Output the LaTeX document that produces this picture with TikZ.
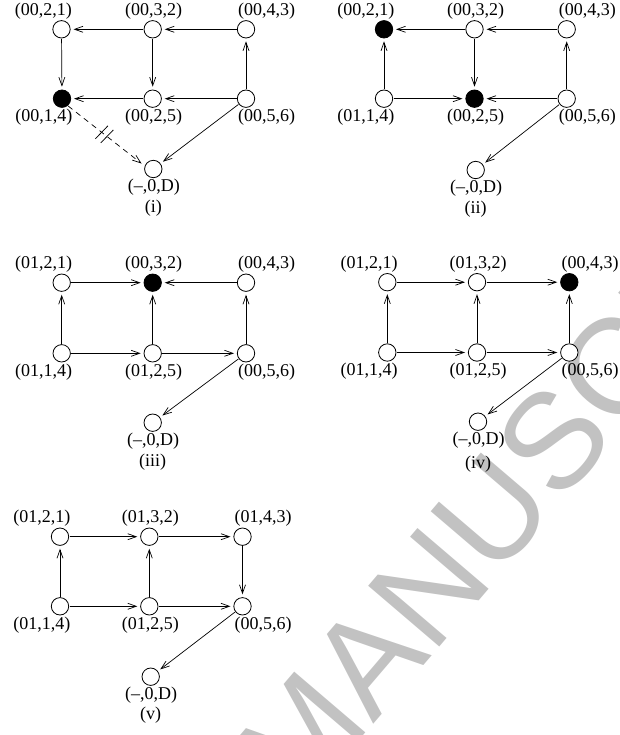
\documentclass[tikz,border=0pt]{standalone}
\usepackage{fontspec}
\setmainfont{Liberation Serif}
\newfontfamily\wmfont{Liberation Sans}
\usetikzlibrary{arrows.meta,calc}
\definecolor{wmgray}{RGB}{194,194,194}
\newcommand{\mkvert}[6]{%
  \node[vert,#4] (#1) at (#2,#3) {};
  \node[lbl,#5] (#1l) at (#1) {#6};
}
\begin{document}
\begin{tikzpicture}[x=1pt,y=-1pt,
  vert/.style={circle,draw,line width=0.8pt,minimum size=17.4pt,inner sep=0pt,outer sep=0.8pt},
  full/.style={fill=black},
  open/.style={fill=white},
  lbl/.style={inner sep=0pt,font=\fontsize{18}{20}\selectfont},
  lblLT/.style={anchor=east,xshift=10.5pt,yshift=18.5pt},
  lblMT/.style={anchor=center,xshift=1pt,yshift=18.5pt},
  lblRT/.style={anchor=west,xshift=-8pt,yshift=18.5pt},
  lblLB/.style={anchor=east,xshift=10.5pt,yshift=-18.5pt},
  lblMB/.style={anchor=center,xshift=1pt,yshift=-18.5pt},
  lblRB/.style={anchor=west,xshift=-8pt,yshift=-18.5pt},
  lblDB/.style={anchor=center,xshift=0.5pt,yshift=-18.5pt},
  arr/.style={-{Straight Barb[length=8.5pt,width=6pt]},line width=0.7pt,shorten >=2.5pt},
  tick/.style={line width=0.75pt},
  wm/.style={font=\wmfont\fontsize{136}{136}\selectfont,text=wmgray,rotate=49.5,inner sep=0pt}
]
\useasboundingbox (0,0) rectangle (619,735);
\begin{scope}
  \clip (0,0) rectangle (619,735);
  \node[wm] (wmark) at (556,438) {MANUSCRIPT};
\end{scope}

% ---------------- panel (i)
\mkvert{a21}{61.5}{29.3}{open}{lblLT}{(00,2,1)}
\mkvert{a32}{152.7}{29.3}{open}{lblMT}{(00,3,2)}
\mkvert{a43}{246}{29.3}{open}{lblRT}{(00,4,3)}
\mkvert{a14}{62}{98.7}{full}{lblLB}{(00,1,4)}
\mkvert{a25}{152.7}{98.7}{open}{lblMB}{(00,2,5)}
\mkvert{a56}{246}{98.7}{open}{lblRB}{(00,5,6)}
\mkvert{aD}{153.3}{169}{open}{lblDB}{(--,0,D)}
\node[lbl] (capa) at ([yshift=-39pt]aD.center) {(i)};
\draw[arr] (a32) -- (a21);
\draw[arr] (a43) -- (a32);
\draw[arr] (a21) -- (a14);
\draw[arr] (a32) -- (a25);
\draw[arr] (a25) -- (a14);
\draw[arr] (a56) -- (a25);
\draw[arr] (a56) -- (a43);
\draw[arr] (a56) -- (aD);
\draw[arr,dashed,dash pattern=on 5.5pt off 4.5pt,shorten >=3.5pt] (a14.-50) -- (aD.160);
\path (a14.-50) -- (aD.160) coordinate[pos=0.44] (ma) coordinate[pos=0.51] (mb);
\draw[tick] ($(ma)!9pt!84:(aD.160)$) -- ($(ma)!9pt!-96:(aD.160)$);
\draw[tick] ($(mb)!9pt!84:(aD.160)$) -- ($(mb)!9pt!-96:(aD.160)$);

% ---------------- panel (ii)
\mkvert{b21}{384}{29.3}{full}{lblLT}{(00,2,1)}
\mkvert{b32}{474.5}{29.3}{open}{lblMT}{(00,3,2)}
\mkvert{b43}{566.7}{29.3}{open}{lblRT}{(00,4,3)}
\mkvert{b14}{384}{98.7}{open}{lblLB}{(01,1,4)}
\mkvert{b25}{474.5}{98.7}{full}{lblMB}{(00,2,5)}
\mkvert{b56}{566.7}{98.7}{open}{lblRB}{(00,5,6)}
\mkvert{bD}{475.7}{170}{open}{lblDB}{(--,0,D)}
\node[lbl] (capb) at ([yshift=-39pt]bD.center) {(ii)};
\draw[arr] (b32) -- (b21);
\draw[arr] (b43) -- (b32);
\draw[arr] (b14) -- (b21);
\draw[arr] (b32) -- (b25);
\draw[arr] (b14) -- (b25);
\draw[arr] (b56) -- (b25);
\draw[arr] (b56) -- (b43);
\draw[arr] (b56) -- (bD);

% ---------------- panel (iii)
\mkvert{c21}{61.7}{282.7}{open}{lblLT}{(01,2,1)}
\mkvert{c32}{152.7}{282.7}{full}{lblMT}{(00,3,2)}
\mkvert{c43}{246}{282.7}{open}{lblRT}{(00,4,3)}
\mkvert{c14}{61.7}{353.3}{open}{lblLB}{(01,1,4)}
\mkvert{c25}{152.7}{353.3}{open}{lblMB}{(01,2,5)}
\mkvert{c56}{246}{353.3}{open}{lblRB}{(00,5,6)}
\mkvert{cD}{152.7}{422.7}{open}{lblDB}{(--,0,D)}
\node[lbl] (capc) at ([yshift=-39pt]cD.center) {(iii)};
\draw[arr] (c21) -- (c32);
\draw[arr] (c43) -- (c32);
\draw[arr] (c14) -- (c21);
\draw[arr] (c25) -- (c32);
\draw[arr] (c56) -- (c43);
\draw[arr] (c14) -- (c25);
\draw[arr] (c25) -- (c56);
\draw[arr] (c56) -- (cD);

% ---------------- panel (iv)
\mkvert{d21}{387.3}{282.2}{open}{lblLT}{(01,2,1)}
\mkvert{d32}{477}{282.2}{open}{lblMT}{(01,3,2)}
\mkvert{d43}{569.3}{282.2}{full}{lblRT}{(00,4,3)}
\mkvert{d14}{387.3}{352.5}{open}{lblLB}{(01,1,4)}
\mkvert{d25}{477}{352.5}{open}{lblMB}{(01,2,5)}
\mkvert{d56}{569.3}{352.5}{open}{lblRB}{(00,5,6)}
\mkvert{dD}{478}{421.7}{open}{lblDB}{(--,0,D)}
\node[lbl] (capd) at ([yshift=-42pt]dD.center) {(iv)};
\draw[arr] (d21) -- (d32);
\draw[arr] (d32) -- (d43);
\draw[arr] (d14) -- (d21);
\draw[arr] (d25) -- (d32);
\draw[arr] (d56) -- (d43);
\draw[arr] (d14) -- (d25);
\draw[arr] (d25) -- (d56);
\draw[arr] (d56) -- (dD);

% ---------------- panel (v)
\mkvert{e21}{60}{536.7}{open}{lblLT}{(01,2,1)}
\mkvert{e32}{149.3}{536.7}{open}{lblMT}{(01,3,2)}
\mkvert{e43}{242.5}{536.7}{open}{lblRT}{(01,4,3)}
\mkvert{e14}{60}{606.3}{open}{lblLB}{(01,1,4)}
\mkvert{e25}{149.3}{606.3}{open}{lblMB}{(01,2,5)}
\mkvert{e56}{242.5}{606.3}{open}{lblRB}{(00,5,6)}
\mkvert{eD}{150.7}{676.7}{open}{lblDB}{(--,0,D)}
\node[lbl] (cape) at ([yshift=-38.5pt]eD.center) {(v)};
\draw[arr] (e21) -- (e32);
\draw[arr] (e32) -- (e43);
\draw[arr] (e14) -- (e21);
\draw[arr] (e25) -- (e32);
\draw[arr] (e43) -- (e56);
\draw[arr] (e14) -- (e25);
\draw[arr] (e25) -- (e56);
\draw[arr] (e56) -- (eD);
\end{tikzpicture}
\end{document}
